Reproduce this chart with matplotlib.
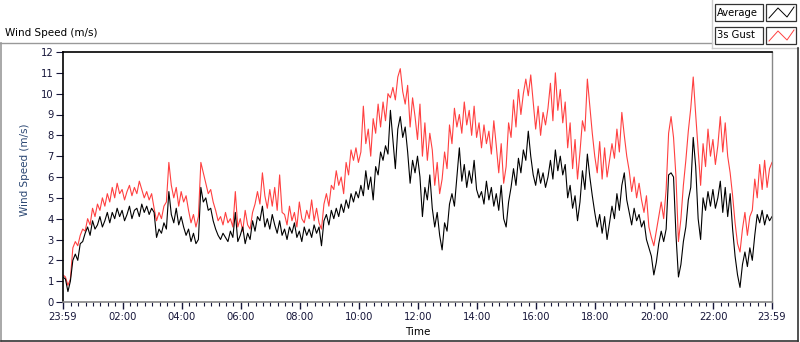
import matplotlib
matplotlib.use('Agg')
import matplotlib.pyplot as plt
import numpy as np
from matplotlib.lines import Line2D
from matplotlib.patches import Rectangle

# wind speed, one reading every 5 minutes from 23:59 to 23:59 (m/s)
average = [
    1.2, 1.1, 0.5, 1.0, 2.0, 2.3, 2.0, 2.8, 2.9, 3.3,
    3.6, 3.2, 3.9, 3.5, 3.7, 4.1, 3.6, 3.9, 4.3, 3.8,
    4.3, 4.0, 4.5, 4.1, 4.4, 3.9, 4.2, 4.6, 4.0, 4.4,
    4.5, 4.1, 4.7, 4.3, 4.6, 4.2, 4.5, 4.3, 3.1, 3.5,
    3.3, 3.8, 3.5, 5.3, 4.2, 3.8, 4.5, 3.7, 4.1, 3.6,
    3.2, 3.5, 2.9, 3.3, 2.8, 3.0, 5.5, 4.8, 5.0, 4.4,
    4.5, 3.9, 3.5, 3.2, 3.0, 3.3, 3.1, 2.9, 3.4, 3.1,
    4.3, 2.9, 3.2, 3.6, 2.8, 3.3, 3.0, 3.9, 3.4, 4.1,
    3.9, 4.6, 3.6, 4.0, 3.5, 4.2, 3.7, 3.3, 3.9, 3.2,
    3.5, 3.0, 3.6, 3.3, 3.8, 3.1, 3.4, 2.9, 3.6, 3.2,
    3.5, 3.1, 3.7, 3.3, 3.6, 2.7, 3.9, 4.2, 3.7, 4.4,
    4.0, 4.5, 4.1, 4.7, 4.3, 4.9, 4.5, 5.2, 4.8, 5.3,
    5.0, 5.6, 5.1, 6.3, 5.4, 6.0, 4.9, 6.5, 6.1, 7.2,
    6.8, 7.5, 7.1, 9.2, 7.8, 6.4, 8.3, 8.9, 7.9, 8.4,
    7.2, 5.7, 6.8, 6.2, 7.0, 6.0, 4.1, 5.5, 4.9, 6.1,
    4.5, 3.6, 4.3, 3.2, 2.5, 3.8, 3.4, 4.7, 5.2, 4.6,
    6.0, 7.4, 5.8, 6.6, 5.5, 6.3, 5.7, 6.8, 5.4, 5.0,
    5.3, 4.7, 5.8, 4.9, 5.5, 4.6, 5.2, 4.4, 5.6, 4.0,
    3.6, 4.8, 5.5, 6.4, 5.6, 6.9, 6.2, 7.3, 6.8, 8.2,
    7.0, 6.1, 5.6, 6.4, 5.7, 6.2, 5.5, 6.0, 6.8, 5.9,
    7.3, 6.3, 7.0, 6.1, 6.6, 5.0, 5.6, 4.5, 5.1, 3.9,
    4.8, 6.3, 5.4, 7.1, 6.0, 5.1, 4.3, 3.6, 4.2, 3.3,
    4.1, 3.0, 3.8, 4.6, 4.0, 5.2, 4.4, 5.6, 6.2, 4.9,
    4.3, 3.7, 4.5, 3.9, 4.2, 3.6, 3.9, 3.0, 2.6, 2.2,
    1.3, 1.9, 2.8, 3.4, 2.9, 3.5, 6.1, 6.2, 6.0, 3.2,
    1.2, 1.8, 2.9, 3.6, 4.9, 5.5, 7.9, 6.5, 4.0, 3.0,
    5.0, 4.4, 5.3, 4.6, 5.4, 4.5, 5.0, 5.8, 4.3, 5.5,
    4.1, 5.2, 3.5, 2.2, 1.3, 0.7, 1.8, 2.4, 1.7, 2.6,
    2.0, 3.2, 4.2, 3.8, 4.4, 3.7, 4.2, 3.9, 4.1,
]

gust = [
    1.3, 1.2, 0.8, 1.1, 2.6, 2.9, 2.7, 3.2, 3.5, 3.4,
    4.0, 3.7, 4.5, 4.1, 4.7, 4.4, 5.0, 4.6, 5.2, 4.8,
    5.5, 5.0, 5.7, 5.2, 5.4, 4.9, 5.3, 5.6, 5.1, 5.5,
    5.2, 5.8, 5.4, 5.0, 5.3, 4.9, 5.2, 4.5, 3.9, 4.3,
    4.0, 4.6, 4.8, 6.7, 5.6, 5.0, 5.5, 4.6, 5.3, 4.8,
    5.1, 4.4, 3.8, 4.2, 3.6, 4.1, 6.7, 6.2, 5.7, 5.2,
    5.4, 4.8, 4.4, 3.9, 4.1, 3.7, 4.3, 3.8, 4.0, 3.6,
    5.3, 3.6, 4.0, 3.4, 4.4, 3.7, 3.5, 4.3, 4.7, 5.3,
    4.7, 6.2, 5.1, 4.5, 5.4, 4.6, 5.5, 4.4, 6.1, 4.3,
    4.2, 3.7, 4.6, 3.9, 4.3, 3.6, 4.8, 4.0, 3.8, 4.4,
    4.0, 4.9, 3.9, 4.5, 3.8, 3.5, 4.7, 5.2, 4.6, 5.6,
    5.4, 6.3, 5.6, 6.0, 5.2, 6.7, 6.1, 7.3, 6.8, 7.4,
    6.7, 7.2, 9.4, 7.6, 8.3, 7.0, 8.8, 8.1, 9.5, 8.4,
    9.6, 8.7, 10.0, 9.8, 10.3, 9.7, 10.8, 11.2, 10.1, 9.5,
    10.4, 8.4, 9.8, 8.9, 7.8, 9.5, 7.0, 8.6, 6.8, 8.1,
    7.3, 5.6, 6.7, 5.2, 5.9, 7.2, 6.4, 8.5, 7.6, 9.3,
    8.4, 9.0, 8.1, 9.6, 8.5, 9.2, 8.0, 9.4, 7.9, 8.6,
    7.4, 8.5, 7.6, 8.2, 7.1, 8.7, 7.5, 6.2, 7.6, 5.7,
    6.5, 8.6, 7.9, 9.7, 8.4, 10.2, 9.0, 10.0, 10.7, 9.9,
    10.9, 9.6, 8.3, 9.4, 8.0, 9.1, 8.5, 9.3, 10.5, 8.7,
    11.0, 9.2, 10.2, 8.6, 9.6, 7.4, 8.6, 6.4, 7.8, 5.9,
    7.2, 8.7, 8.2, 10.7, 9.4, 8.1, 7.0, 6.2, 7.7, 5.9,
    7.4, 6.0, 6.8, 7.6, 6.9, 8.3, 7.2, 9.1, 8.0, 7.0,
    6.3, 5.3, 6.0, 5.0, 5.7, 4.9, 4.3, 5.1, 3.6, 3.1,
    2.7, 3.4, 4.1, 4.8, 4.0, 5.4, 8.1, 8.9, 7.9, 6.0,
    2.9, 4.0, 5.6, 6.8, 8.2, 9.3, 10.8, 9.0, 7.3, 5.6,
    7.6, 6.5, 8.3, 7.0, 7.8, 6.6, 7.5, 8.9, 7.2, 8.6,
    7.0, 6.2, 5.1, 3.8, 2.8, 2.4, 3.5, 4.3, 3.2, 4.1,
    4.4, 5.9, 5.0, 6.6, 5.4, 6.8, 5.5, 6.4, 6.7,
]

minutes = np.arange(len(average)) * 5   # minutes since 23:59

tick_pos = [0, 121, 241, 361, 481, 601, 721, 841, 961, 1081, 1201, 1321, 1440]
tick_labels = ['23:59', '02:00', '04:00', '06:00', '08:00', '10:00', '12:00',
               '14:00', '16:00', '18:00', '20:00', '22:00', '23:59']

W, H = 800, 342
plt.rcParams['font.family'] = ['DejaVu Sans']

def px(x, y):
    return x / W, 1 - y / H

fig = plt.figure(figsize=(W / 100, H / 100), dpi=100)
fig.patch.set_facecolor('white')

ax = fig.add_axes([63 / W, 1 - 302 / H, 709 / W, 250 / H])
ax.plot(minutes, gust, color='#ff4040', lw=0.8)
ax.plot(minutes, average, color='black', lw=0.8)

ax.set_xlim(0, 1440)
ax.set_ylim(0, 12)
ax.set_yticks(range(0, 13))
ax.set_xticks(tick_pos)
ax.set_xticklabels(tick_labels)
ax.set_xticks(np.arange(16, 1440, 15), minor=True)

txt = '#16163a'
ax.tick_params(axis='y', length=5, width=0.8, pad=1.5, labelsize=7.2, colors=txt)
ax.tick_params(axis='x', which='major', length=5, width=1.0, pad=2, labelsize=7.2, colors=txt)
ax.tick_params(axis='x', which='minor', length=3, width=0.8, color=txt)

ax.spines['top'].set_color('black')
ax.spines['left'].set_color('black')
ax.spines['top'].set_linewidth(1.2)
ax.spines['left'].set_linewidth(1.2)
ax.spines['right'].set_color('#888888')
ax.spines['bottom'].set_color('#888888')
ax.spines['right'].set_linewidth(1.0)
ax.spines['bottom'].set_linewidth(1.2)

ax.set_ylabel('Wind Speed (m/s)', fontsize=7.5, color='#2a4672')
ax.yaxis.set_label_coords((30 - 63) / 709, 0.53)
ax.set_xlabel('Time', fontsize=7.5, color='black')
ax.xaxis.set_label_coords(0.5, -(327 - 302) / 250)

# outer frame
fig.add_artist(Line2D(*zip(px(1, 43), px(1, 341)), color='#999999', lw=1.2))
fig.add_artist(Line2D(*zip(px(0, 43), px(712, 43)), color='#999999', lw=1.0))
fig.add_artist(Line2D(*zip(px(712, 0), px(712, 48)), color='#cccccc', lw=1.0))
fig.add_artist(Line2D(*zip(px(712, 48), px(798, 48)), color='#cccccc', lw=1.0))
fig.add_artist(Line2D(*zip(px(798, 48), px(798, 341)), color='#333333', lw=1.2))
fig.add_artist(Line2D(*zip(px(1, 341), px(798, 341)), color='#333333', lw=1.2))

fig.text(*px(5, 33), 'Wind Speed (m/s)', fontsize=7.5, va='center', ha='left', color='black')

# legend
for y0, name, col in [(4, 'Average', 'black'), (27, '3s Gust', '#ff4040')]:
    x0, y1 = px(715, y0 + 17)
    fig.add_artist(Rectangle((x0, y1), 48 / W, 17 / H, transform=fig.transFigure,
                             facecolor='white', edgecolor='#333333', lw=0.9))
    fig.text(*px(717, y0 + 8.5), name, fontsize=7.2, va='center', ha='left', color='black')
    x0, y1 = px(766, y0 + 17)
    fig.add_artist(Rectangle((x0, y1), 30 / W, 17 / H, transform=fig.transFigure,
                             facecolor='white', edgecolor='#333333', lw=0.9))
    zx = [769, 778, 787, 794]
    zy = [y0 + 14, y0 + 4, y0 + 13, y0 + 3]
    fig.add_artist(Line2D([x / W for x in zx], [1 - y / H for y in zy], color=col, lw=0.7))

fig.savefig('out.png', dpi=100, facecolor='white')
